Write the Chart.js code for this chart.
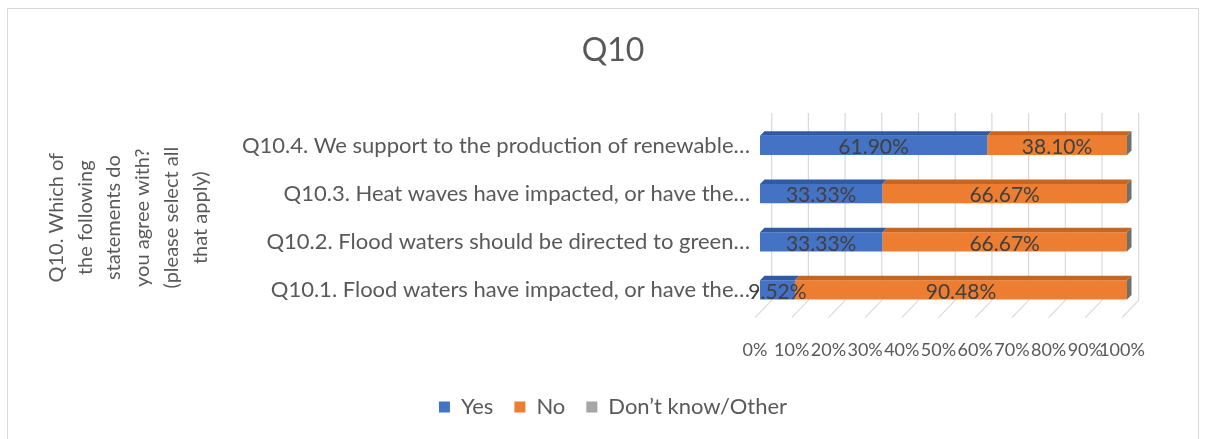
<!DOCTYPE html>
<html>
<head>
<meta charset="utf-8">
<script src="https://cdn.jsdelivr.net/npm/chart.js@4/dist/chart.umd.min.js"></script>
<style>
  html, body { margin: 0; padding: 0; background: #fff; overflow: hidden; }
  #frame {
    position: absolute; left: 7px; top: 8px;
    width: 1190px; height: 440px;
    border: 1px solid #d9d9d9;
  }
  #chart { display: block; }
</style>
</head>
<body>
<div id="frame"><canvas id="chart" width="1190" height="430"></canvas></div>
<script>
// data, top row first
const questions = [
  "Q10.4. We support to the production of renewable…",
  "Q10.3. Heat waves have impacted, or have the…",
  "Q10.2. Flood waters should be directed to green…",
  "Q10.1. Flood waters have impacted, or have the…"
];
const yesValues = [61.90, 33.33, 33.33, 9.52];
const noValues = [38.10, 66.67, 66.67, 90.48];
const otherValues = [0, 0, 0, 0];

const axisTitle = ["Q10. Which of", "the following", "statements do",
  "you agree with?", "(please select all", "that apply)"];

const FONT = "Lato, 'Open Sans', sans-serif";
const GREY_TEXT = "#595959";
const BAR_DEPTH = 4.5; // depth of the bar top face

// back wall + floor grid, like the excel 3d chart
const gridPlugin = {
  id: "grid3d",
  beforeDatasetsDraw(chart) {
    const ctx = chart.ctx;
    const area = chart.chartArea;
    const xs = chart.scales.x;
    ctx.save();
    ctx.strokeStyle = "#d9d9d9";
    ctx.lineWidth = 1.2;
    xs.ticks.forEach(t => {
      const px = xs.getPixelForValue(t.value);
      ctx.beginPath();
      ctx.moveTo(px + 11.7, area.top - 8.5);
      ctx.lineTo(px + 11.7, area.bottom - 13.7);
      ctx.lineTo(px - 5, area.bottom + 3.6);
      ctx.stroke();
    });
    ctx.restore();
  }
};

// top faces, side face and value labels
const barPlugin = {
  id: "bars3d",
  afterDatasetsDraw(chart) {
    const ctx = chart.ctx;
    ctx.save();
    chart.data.datasets.forEach((ds, i) => {
      const meta = chart.getDatasetMeta(i);
      meta.data.forEach(bar => {
        const p = bar.getProps(["x", "y", "base", "height"], true);
        const left = Math.min(p.x, p.base);
        const right = Math.max(p.x, p.base);
        const top = p.y - p.height / 2;
        const bottom = p.y + p.height / 2;
        ctx.fillStyle = ds.topColor;
        if (right - left > 0.5) {
          ctx.beginPath();
          ctx.moveTo(left, top);
          ctx.lineTo(left + BAR_DEPTH, top - BAR_DEPTH);
          ctx.lineTo(right + BAR_DEPTH, top - BAR_DEPTH);
          ctx.lineTo(right, top);
          ctx.closePath();
          ctx.fill();
        }
        if (i === chart.data.datasets.length - 1) {
          ctx.fillStyle = ds.sideColor;
          ctx.beginPath();
          ctx.moveTo(right, top);
          ctx.lineTo(right + BAR_DEPTH, top - BAR_DEPTH);
          ctx.lineTo(right + BAR_DEPTH, bottom - BAR_DEPTH);
          ctx.lineTo(right, bottom);
          ctx.closePath();
          ctx.fill();
        }
      });
    });
    ctx.font = "21px " + FONT;
    ctx.fillStyle = "#404040";
    ctx.textAlign = "center";
    ctx.textBaseline = "middle";
    chart.data.datasets.forEach((ds, i) => {
      const meta = chart.getDatasetMeta(i);
      meta.data.forEach((bar, j) => {
        const v = ds.data[j];
        if (!v) return;
        const p = bar.getProps(["x", "y", "base"], true);
        ctx.fillText(v.toFixed(2) + "%", (p.x + p.base) / 2, p.y + 2);
      });
    });
    ctx.restore();
  }
};

new Chart(document.getElementById("chart"), {
  type: "bar",
  data: {
    labels: questions,
    datasets: [
      { label: "Yes", data: yesValues, backgroundColor: "#4472c4", topColor: "#2f5aa6", sideColor: "#2f5597" },
      { label: "No", data: noValues, backgroundColor: "#ed7d31", topColor: "#c8651f", sideColor: "#b5591c" },
      { label: "Don’t know/Other", data: otherValues, backgroundColor: "#a5a5a5", topColor: "#8c8c8c", sideColor: "#6f6f6f" }
    ]
  },
  options: {
    indexAxis: "y",
    responsive: false,
    animation: false,
    categoryPercentage: 0.8,
    barPercentage: 0.5,
    layout: { padding: { left: 91, right: 71, top: 0, bottom: 11 } },
    scales: {
      x: {
        stacked: true,
        min: 0,
        max: 100,
        grid: { display: false },
        border: { display: false },
        ticks: {
          stepSize: 10,
          padding: 17,
          labelOffset: -5,
          color: GREY_TEXT,
          font: { family: FONT, size: 18 },
          maxRotation: 0,
          autoSkip: false,
          callback: v => v + "%"
        },
        afterFit(scale) { scale.height = 61; }
      },
      y: {
        stacked: true,
        grid: { display: false, drawTicks: false },
        border: { display: false },
        ticks: {
          padding: 10,
          color: GREY_TEXT,
          font: { family: FONT, size: 22 }
        },
        title: {
          display: true,
          text: axisTitle,
          color: GREY_TEXT,
          font: { family: FONT, size: 20, lineHeight: 1.44 },
          padding: { top: -57, bottom: 0 }
        },
        afterFit(scale) { scale.width = 661; }
      }
    },
    plugins: {
      title: {
        display: true,
        text: "Q10",
        color: GREY_TEXT,
        font: { family: FONT, size: 32, weight: "normal", lineHeight: 1.2 },
        padding: { top: 22, bottom: 52 }
      },
      legend: {
        position: "bottom",
        labels: {
          color: GREY_TEXT,
          font: { family: FONT, size: 22 },
          boxWidth: 11,
          boxHeight: 11,
          padding: 21
        }
      },
      tooltip: { enabled: false }
    }
  },
  plugins: [gridPlugin, barPlugin]
});
</script>
</body>
</html>
